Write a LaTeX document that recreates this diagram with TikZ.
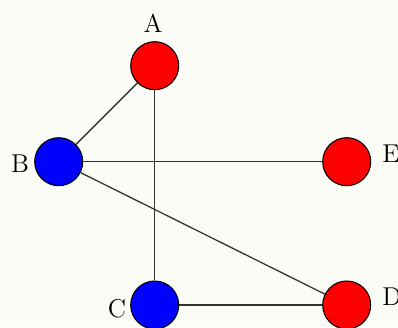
\documentclass[tikz,border=0pt]{standalone}
\begin{document}
\begin{tikzpicture}[x=0.427pt,y=-0.427pt,
  vert/.style={circle,draw=black,line width=0.45pt,minimum size=20.5pt,inner sep=0pt},
  redv/.style={vert,fill=red},
  bluev/.style={vert,fill=blue},
  lab/.style={inner sep=0pt,font=\fontsize{11}{13}\selectfont},
  edge/.style={draw=black!80,line width=0.55pt}]
\fill[fill={rgb,1:red,0.99;green,0.99;blue,0.97}] (0,0) rectangle (398,327);
\useasboundingbox (0,0) rectangle (398,327);
\node[redv] (A) at (154.7,65.7) {};
\node[bluev] (B) at (58.7,161.7) {};
\node[redv] (E) at (346.7,161.7) {};
\node[bluev] (C) at (154.7,305) {};
\node[redv] (D) at (346.7,305) {};
\node[lab] (lA) at (153,23) {A};
\node[lab] (lB) at (20,164) {B};
\node[lab] (lE) at (391,154) {E};
\node[lab] (lC) at (117,309) {C};
\node[lab] (lD) at (392,297) {D};
\draw[edge] (A) -- (B);
\draw[edge] (A) -- (C);
\draw[edge] (B) -- (E);
\draw[edge] (B) -- (D);
\draw[edge] (C) -- (D);
\end{tikzpicture}
\end{document}
